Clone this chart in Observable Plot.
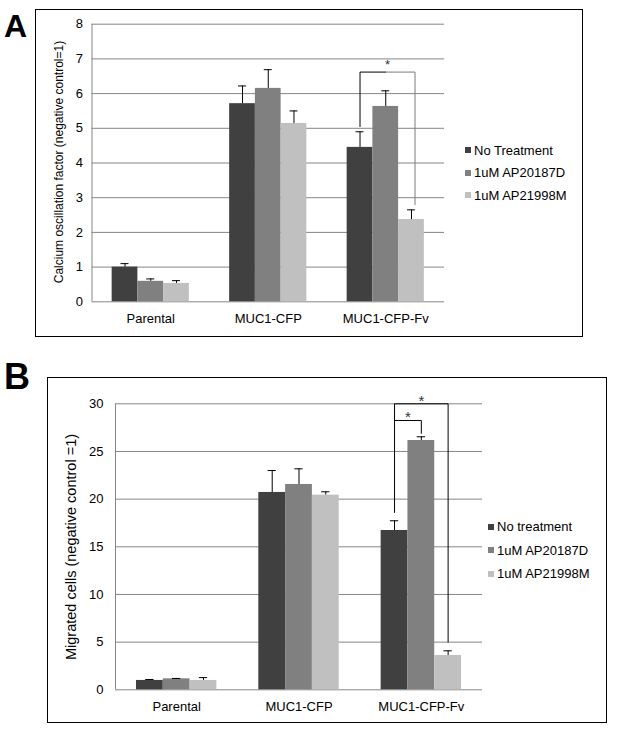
<!DOCTYPE html>
<html>
<head>
<meta charset="utf-8">
<script src="https://cdn.jsdelivr.net/npm/d3@7"></script>
<script src="https://cdn.jsdelivr.net/npm/@observablehq/plot@0.6"></script>
<style>
  html, body { margin: 0; padding: 0; background: #fff; }
  body { font-family: "Liberation Sans", Arial, sans-serif; color: #000; }
  #page { position: relative; width: 618px; height: 733px; overflow: hidden; background: #fff; }
  .frame { position: absolute; border: 1px solid #000; box-sizing: border-box; }
  .plot { position: absolute; left: 0; }
  .plot svg { overflow: visible; }
  .panel-label { position: absolute; font-weight: bold; line-height: 1; font-family: "Liberation Sans", Arial, sans-serif; }
  .ytitle { position: absolute; white-space: nowrap; transform: translate(-50%, -50%) rotate(-90deg); line-height: 1; }
  .legend-row { position: absolute; display: flex; align-items: center; height: 16px; font-size: 13px; white-space: nowrap; }
  .legend-row .sw { width: 6px; height: 6px; margin-right: 3px; }
</style>
</head>
<body>
<div id="page">
  <div class="frame" style="left:35px; top:9px; width:548px; height:328px;"></div>
  <div class="frame" style="left:47px; top:377px; width:560px; height:346px;"></div>
  <div class="panel-label" style="left:4px; top:10px; font-size:32px;">A</div>
  <div class="panel-label" style="left:4px; top:359px; font-size:36px;">B</div>
  <div class="ytitle" style="left:59px; top:161.5px; font-size:12px;">Calcium oscillation factor (negative control=1)</div>
  <div class="ytitle" style="left:71px; top:546.5px; font-size:14.5px;">Migrated cells (negative control =1)</div>
  <div id="plotA" class="plot" style="top:0px;"></div>
  <div id="plotB" class="plot" style="top:360px;"></div>
  <div id="legendA"></div>
  <div id="legendB"></div>
</div>
<script>
// ---------- data ----------
const categories = ["Parental", "MUC1-CFP", "MUC1-CFP-Fv"];
const seriesA = ["No Treatment", "1uM AP20187D", "1uM AP21998M"];
const seriesB = ["No treatment", "1uM AP20187D", "1uM AP21998M"];
const seriesColors = ["#404040", "#808080", "#c0c0c0"];

// Panel A: calcium oscillation factor
const meanA_noTreatment = [1.00, 5.71, 4.45];
const meanA_AP20187D    = [0.59, 6.15, 5.63];
const meanA_AP21998M    = [0.53, 5.14, 2.37];
const errA_noTreatment  = [0.10, 0.51, 0.45];
const errA_AP20187D     = [0.07, 0.54, 0.45];
const errA_AP21998M     = [0.08, 0.36, 0.28];
const yTicksA = [0, 1, 2, 3, 4, 5, 6, 7, 8];

// Panel B: migrated cells
const meanB_noTreatment = [0.98, 20.70, 16.71];
const meanB_AP20187D    = [1.15, 21.54, 26.15];
const meanB_AP21998M    = [0.98, 20.42, 3.60];
const errB_noTreatment  = [0.10, 2.30, 1.02];
const errB_AP20187D     = [0.04, 1.64, 0.39];
const errB_AP21998M     = [0.30, 0.35, 0.49];
const yTicksB = [0, 5, 10, 15, 20, 25, 30];

// significance brackets: category, from series, to series, start y, top y, end y, star y
const bracketsA = [
  {cat: 2, from: 0, to: 2, split: 1, toShift: 0.03, yStart: 5.05, yTop: 6.62, yEnd: 2.80, yStar: 6.91}
];
const bracketsB = [
  {cat: 2, from: 0, to: 2, yStart: 18.6, yTop: 30.0, yEnd: 5.0, yStar: 30.7},
  {cat: 2, from: 0, to: 1, yStart: 28.25, yTop: 28.25, yEnd: 26.9, yStar: 28.96}
];

// ---------- helpers ----------
const barFrac = 0.219;   // bar width as fraction of category band
const capFrac = 0.034;   // half-width of error bar cap
const cx = (cat, s) => cat + 0.5 + (s - 1) * barFrac;

function rowsOf(means, errs) {
  const rows = [];
  means.forEach((m, s) => m.forEach((v, c) => rows.push({cat: c, s, mean: v, err: errs[s][c], top: v + errs[s][c]})));
  return rows;
}

function bracketLines(brs) {
  const pts = [];
  brs.forEach((b, i) => {
    const x0 = cx(b.cat, b.from), x1 = cx(b.cat, b.to) + (b.toShift || 0);
    if (b.split != null) {
      const xm = cx(b.cat, b.split);
      pts.push({id: i + "a", color: "#000", x: x0, y: b.yStart});
      pts.push({id: i + "a", color: "#000", x: x0, y: b.yTop});
      pts.push({id: i + "a", color: "#000", x: xm, y: b.yTop});
      pts.push({id: i + "b", color: "#7a7a7a", x: xm, y: b.yTop});
      pts.push({id: i + "b", color: "#7a7a7a", x: x1, y: b.yTop});
      pts.push({id: i + "b", color: "#7a7a7a", x: x1, y: b.yEnd});
    } else {
      pts.push({id: i, color: "#000", x: x0, y: b.yStart});
      pts.push({id: i, color: "#000", x: x0, y: b.yTop});
      pts.push({id: i, color: "#000", x: x1, y: b.yTop});
      pts.push({id: i, color: "#000", x: x1, y: b.yEnd});
    }
  });
  return pts;
}

const font = '"Liberation Sans", Arial, sans-serif';
const gridColor = "#868686";

function makePlot({rows, yDomain, yTicks, brackets, height, margins, tickPadding, starSize}) {
  const stars = brackets.map(b => ({x: (cx(b.cat, b.from) + cx(b.cat, b.to) + (b.toShift || 0)) / 2, y: b.yStar}));
  return Plot.plot({
    width: 618,
    height,
    marginLeft: margins[0], marginRight: margins[1], marginTop: margins[2], marginBottom: margins[3],
    x: {type: "linear", domain: [0, categories.length]},
    y: {domain: yDomain},
    style: {fontFamily: font, fontSize: "13px", background: "transparent", color: "#000", overflow: "visible"},
    marks: [
      Plot.gridY(yTicks, {stroke: gridColor, strokeOpacity: 1, strokeWidth: 1}),
      Plot.ruleX([0], {y1: yDomain[0], y2: yDomain[1], stroke: gridColor, strokeWidth: 1}),
      Plot.axisY(yTicks, {tickSize: 0, tickPadding, fontSize: 13, label: null}),
      Plot.axisX(categories.map((c, i) => i + 0.5), {
        tickSize: 0, tickPadding: 12, fontSize: 13, label: null,
        tickFormat: d => categories[Math.floor(d)]
      }),
      Plot.rectY(rows, {
        x1: d => cx(d.cat, d.s) - barFrac / 2,
        x2: d => cx(d.cat, d.s) + barFrac / 2,
        y: "mean",
        fill: d => seriesColors[d.s]
      }),
      Plot.ruleX(rows, {x: d => cx(d.cat, d.s), y1: "mean", y2: "top", stroke: "#000", strokeWidth: 1}),
      Plot.ruleY(rows, {y: "top", x1: d => cx(d.cat, d.s) - capFrac, x2: d => cx(d.cat, d.s) + capFrac, stroke: "#000", strokeWidth: 1}),
      Plot.line(bracketLines(brackets), {x: "x", y: "y", z: "id", stroke: "color", strokeWidth: 1, curve: "linear"}),
      Plot.text(stars, {x: "x", y: "y", text: () => "*", fontSize: starSize, fill: "#333", dy: starSize * 0.25})
    ]
  });
}

const rowsA = rowsOf([meanA_noTreatment, meanA_AP20187D, meanA_AP21998M], [errA_noTreatment, errA_AP20187D, errA_AP21998M]);
const rowsB = rowsOf([meanB_noTreatment, meanB_AP20187D, meanB_AP21998M], [errB_noTreatment, errB_AP20187D, errB_AP21998M]);

document.getElementById("plotA").append(makePlot({
  rows: rowsA, yDomain: [0, 8], yTicks: yTicksA, brackets: bracketsA,
  height: 345, margins: [91.5, 618 - 444, 23.7, 345 - 301.3], tickPadding: 9, starSize: 13
}));
document.getElementById("plotB").append(makePlot({
  rows: rowsB, yDomain: [0, 30], yTicks: yTicksB, brackets: bracketsB,
  height: 373, margins: [115, 618 - 482, 43.3, 373 - 329.3], tickPadding: 12, starSize: 15
}));

function legend(id, labels, left, rowYs) {
  const el = document.getElementById(id);
  labels.forEach((lab, i) => {
    const row = document.createElement("div");
    row.className = "legend-row";
    row.style.left = left + "px";
    row.style.top = (rowYs[i] - 8) + "px";
    const sw = document.createElement("div");
    sw.className = "sw";
    sw.style.background = seriesColors[i];
    const tx = document.createElement("span");
    tx.textContent = lab;
    row.append(sw, tx);
    el.append(row);
  });
}
legend("legendA", seriesA, 465, [150, 172.5, 195]);
legend("legendB", seriesB, 488, [526.7, 550.3, 573.5]);
</script>
</body>
</html>
